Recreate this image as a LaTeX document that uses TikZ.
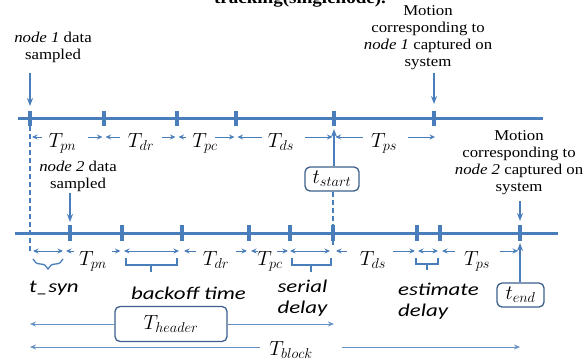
\documentclass[tikz,border=0pt]{standalone}
\usepackage{fix-cm}
\usepackage{fontspec}
\setmainfont{Liberation Serif}
\newfontfamily\labelserif[FakeStretch=1.12]{Liberation Serif}
\newfontfamily\labelsans[FakeStretch=1.27]{Carlito}
\usetikzlibrary{arrows.meta,decorations.pathreplacing}
\definecolor{lineblue}{RGB}{74,126,187}
\definecolor{boxblue}{RGB}{60,95,140}
\begin{document}
\begin{tikzpicture}[x=1pt,y=-1pt,
  timeline/.style={lineblue,line width=3pt},
  tickmark/.style={lineblue,line width=3.5pt},
  pointer/.style={lineblue,line width=1.5pt,-{Stealth[length=8pt,width=6pt]}},
  dim/.style={lineblue,line width=1pt,-{Stealth[length=5.5pt,width=5pt]}},
  dimboth/.style={lineblue,line width=1pt,{Stealth[length=5.5pt,width=5pt]}-{Stealth[length=5.5pt,width=5pt]}},
  span/.style={lineblue!85,line width=1pt,-{Stealth[length=6pt,width=5pt]}},
  guide/.style={lineblue,line width=1.3pt,dash pattern=on 5pt off 3pt},
  bracket/.style={lineblue,line width=1.3pt},
  serlabel/.style={font=\fontsize{15}{17}\labelserif,align=center,inner sep=0pt},
  sanslabel/.style={font=\fontsize{18}{21}\labelsans\itshape,inner sep=0pt},
  mathlabel/.style={font=\fontsize{20.5}{24}\selectfont,inner sep=0pt},
  tbox/.style={draw=boxblue,line width=1.3pt,rounded corners=5pt,inner sep=0pt,font=\fontsize{20.5}{24}\selectfont}]
\useasboundingbox (0,0) rectangle (585,360);

% partially visible title (cut off at the top edge, as in the source)
\node[font=\fontsize{17}{20}\labelserif\bfseries,anchor=base,inner sep=0pt] (title) at (300,3.5) {tracking(singlenode).};

% timelines
\coordinate (L1a) at (18,118); \coordinate (L1b) at (543,118);
\coordinate (L2a) at (15,233); \coordinate (L2b) at (558,233);
\draw[timeline] (L1a) -- (L1b);
\draw[timeline] (L2a) -- (L2b);
\foreach \x [count=\i] in {30,104,177,236,334,434}
  {\coordinate (u\i) at (\x,118); \draw[tickmark] (\x,110.5) -- (\x,125.5);}
\foreach \x [count=\i] in {70,122,182,249,290,333,417,440,520}
  {\coordinate (b\i) at (\x,233); \draw[tickmark] (\x,225) -- (\x,241);}

% event labels
\node[serlabel] (n1s) at (53,47) {\textit{node 1} data\\sampled};
\node[serlabel] (n1m) at (428,38) {Motion\\corresponding to\\\textit{node 1} captured on\\system};
\node[serlabel] (n2s) at (78,176) {\textit{node 2} data\\sampled};
\node[serlabel] (n2m) at (519,163) {Motion\\corresponding to\\\textit{node 2} captured on\\system};

\coordinate (p1s) at (30,73);  \coordinate (p1e) at (30,106);
\coordinate (p2s) at (434,73); \coordinate (p2e) at (434,104);
\coordinate (p3s) at (70,193); \coordinate (p3e) at (70,222);
\coordinate (p4s) at (520,201); \coordinate (p4e) at (520,221);
\draw[pointer] (p1s) -- (p1e);
\draw[pointer] (p2s) -- (p2e);
\draw[pointer] (p3s) -- (p3e);
\draw[pointer] (p4s) -- (p4e);

% top row intervals
\draw[dim] (42,137) -- (32,137);
\node[mathlabel,anchor=base] (tpn1) at (62.5,147) {$T_{pn}$};
\draw[dim] (88,137) -- (102.5,137);
\draw[dim] (120,137) -- (105.5,137);
\node[mathlabel,anchor=base] (tdr1) at (141,147) {$T_{dr}$};
\draw[dim] (162,137) -- (175.5,137);
\draw[dim] (186,137) -- (178.5,137);
\node[mathlabel,anchor=base] (tpc1) at (205,147) {$T_{pc}$};
\draw[dim] (215,137) -- (234.5,137);
\draw[dim] (262,137) -- (237.5,137);
\node[mathlabel,anchor=base] (tds1) at (281,147) {$T_{ds}$};
\draw[dim] (305,137) -- (332.5,137);
\draw[dim] (363,137) -- (335.5,137);
\node[mathlabel,anchor=base] (tps1) at (384,147) {$T_{ps}$};
\draw[dim] (408,137) -- (435,137);

% t_start
\node[tbox,minimum width=54pt,minimum height=24pt] (tstart) at (332,179) {$t_{start}$};
\coordinate (ts1) at (334,129);
\coordinate (ts2) at (333,246);
\draw[pointer,line width=1.3pt] (tstart.north -| u5) -- (ts1);
\draw[guide] (tstart.south -| b6) -- (ts2);
\coordinate (g1) at (30,126); \coordinate (g2) at (30,252);
\draw[guide] (g1) -- (g2);

% bottom row intervals
\draw[dimboth] (33,251) -- (63,251);
\draw[dim] (74,251) -- (66,251);
\node[mathlabel,anchor=base] (tpn2) at (93,265) {$T_{pn}$};
\draw[dim] (112,251) -- (120.5,251);
\draw[dimboth] (124,251) -- (179,251);
\draw[dim] (196,251) -- (184,251);
\node[mathlabel,anchor=base] (tdr2) at (216,265) {$T_{dr}$};
\draw[dim] (236,251) -- (247,251);
\draw[dim] (258,251) -- (251,251);
\node[mathlabel,anchor=base] (tpc2) at (270,265) {$T_{pc}$};
\draw[dim] (277,251) -- (288,251);
\draw[dimboth] (290,251) -- (330,251);
\draw[dim] (347,251) -- (336,251);
\node[mathlabel,anchor=base] (tds2) at (373,265) {$T_{ds}$};
\draw[dim] (393,251) -- (415,251);
\draw[dimboth] (418,251) -- (438,251);
\draw[dim] (455,251) -- (442,251);
\node[mathlabel,anchor=base] (tps2) at (477,265) {$T_{ps}$};
\draw[dim] (500,251) -- (518,251);

% braces / brackets
\draw[bracket,decorate,decoration={brace,amplitude=10pt,mirror}] (33,259) -- (63,259);
\draw[bracket] (126,258) -- (126,265) -- (177,265) -- (177,258);
\draw[bracket] (151,265) -- (151,272);
\draw[bracket] (292,258) -- (292,265) -- (331,265) -- (331,258);
\draw[bracket] (311,265) -- (311,272);
\draw[bracket] (416,258) -- (416,264) -- (438,264) -- (438,258);
\draw[bracket] (427,264) -- (427,270);

\node[sanslabel,anchor=base] (tsyn) at (54,292) {t\_syn};
\node[sanslabel,anchor=base] (boff) at (188.5,299) {backoff time};
\node[sanslabel,align=center] (ser) at (302.5,298) {serial\\delay};
\node[sanslabel,align=left,anchor=west] (est) at (398,301) {estimate\\delay};

% t_end
\node[tbox,minimum width=47pt,minimum height=24pt] (tend) at (520.5,295) {$t_{end}$};
\coordinate (te1) at (520,243);
\draw[pointer,line width=1.3pt] (tend.north -| b9) -- (te1);

% T_header and T_block spans
\node[tbox,minimum width=112pt,minimum height=35pt] (thdr) at (171,324) {$T_{header}$};
\coordinate (h1) at (30,324); \coordinate (h2) at (334,324);
\draw[span] (thdr.west) -- (h1);
\draw[span] (thdr.east) -- (h2);
\node[mathlabel,anchor=base] (tblk) at (291,355) {$T_{block}$};
\coordinate (k0) at (260,347); \coordinate (k1) at (30,347);
\coordinate (k2) at (342,347); \coordinate (k3) at (520,347);
\draw[span] (k0) -- (k1);
\draw[span] (k2) -- (k3);
\end{tikzpicture}
\end{document}
